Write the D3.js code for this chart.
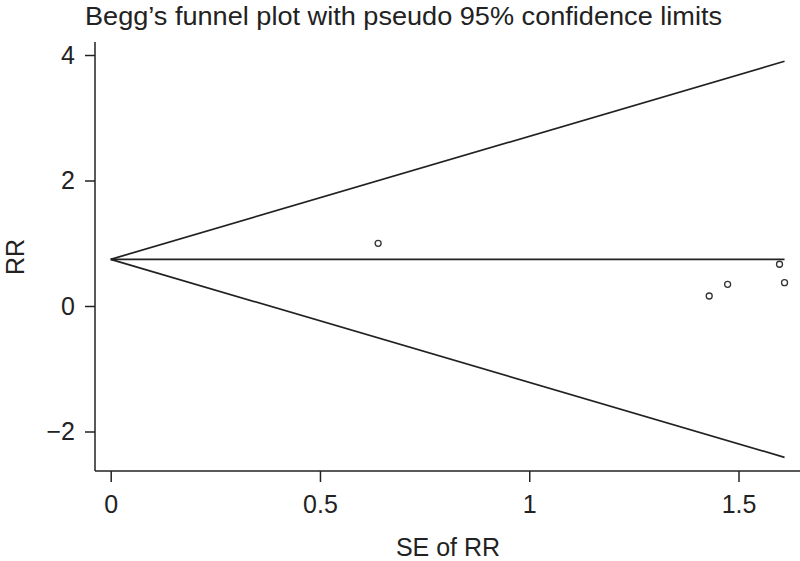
<!DOCTYPE html>
<html><head><meta charset="utf-8">
<script src="https://cdn.jsdelivr.net/npm/d3@7"></script>
<style>body{margin:0;background:#fff}svg{display:block}text{font-family:"Liberation Sans",Arial,sans-serif;fill:#222}</style>
</head><body><div id="c"></div>
<script>
const title = "Begg\u2019s funnel plot with pseudo 95% confidence limits";
const xLabel = "SE of RR";
const yLabel = "RR";
const seValues = [0.639, 1.430, 1.474, 1.598, 1.610];
const rrValues = [0.999, 0.159, 0.346, 0.665, 0.371];
const pooled = 0.744;
const xTicks = [0, 0.5, 1, 1.5];
const yTicks = [-2, 0, 2, 4];

const W = 800, H = 561;
const svg = d3.select("#c").append("svg").attr("width", W).attr("height", H);
const x = d3.scaleLinear().domain([0, 1.5]).range([110.7, 738.5]);
const y = d3.scaleLinear().domain([-2, 4]).range([431.5, 55]);
const axisY = 471, axisX = 95;
const col = "#222";
const fs = 25;

// axes
const xAxis = d3.axisBottom(x).tickValues(xTicks).tickFormat(d3.format("~g")).tickSize(11);
const gx = svg.append("g").attr("transform", `translate(0,${axisY})`).call(xAxis);
gx.select(".domain").remove();
gx.append("line").attr("x1", axisX).attr("x2", W).attr("stroke", col).attr("stroke-width", 1.5);
gx.selectAll(".tick line").attr("stroke", col).attr("stroke-width", 1.5);
gx.selectAll(".tick text").attr("font-size", fs).attr("y", 42).attr("dy", 0).style("fill", col).attr("font-family", "Liberation Sans, Arial, sans-serif");

const yAxis = d3.axisLeft(y).tickValues(yTicks).tickFormat(d => d < 0 ? "\u2212" + Math.abs(d) : d).tickSize(10).tickPadding(10);
const gy = svg.append("g").attr("transform", `translate(${axisX},0)`).call(yAxis);
gy.select(".domain").remove();
gy.append("line").attr("y1", 42).attr("y2", axisY).attr("stroke", col).attr("stroke-width", 1.5);
gy.selectAll(".tick line").attr("stroke", col).attr("stroke-width", 1.5);
gy.selectAll(".tick text").attr("font-size", fs).style("fill", col).attr("font-family", "Liberation Sans, Arial, sans-serif");

// funnel lines
const seMax = d3.max(seValues);
const lines = [
  [[0, pooled], [seMax, pooled + 1.96 * seMax]],
  [[0, pooled], [seMax, pooled]],
  [[0, pooled], [seMax, pooled - 1.96 * seMax]]
];
const lg = d3.line().x(d => x(d[0])).y(d => y(d[1]));
svg.selectAll("path.funnel").data(lines).enter().append("path")
  .attr("class", "funnel").attr("d", lg).attr("fill", "none").attr("stroke", col).attr("stroke-width", 1.7);

// points
svg.selectAll("circle.pt").data(seValues.map((s, i) => [s, rrValues[i]])).enter().append("circle")
  .attr("class", "pt").attr("cx", d => x(d[0])).attr("cy", d => y(d[1])).attr("r", 3)
  .attr("fill", "#fff").attr("stroke", "#333").attr("stroke-width", 1.3);

// title & labels
svg.append("text").attr("x", 85).attr("y", 25).attr("font-size", 25.5)
  .attr("textLength", 637).attr("lengthAdjust", "spacingAndGlyphs").text(title);
svg.append("text").attr("x", 448).attr("y", 556).attr("text-anchor", "middle").attr("font-size", 25).text(xLabel);
svg.append("text").attr("transform", "translate(24,257) rotate(-90)").attr("text-anchor", "middle").attr("font-size", 25).text(yLabel);
</script></body></html>
